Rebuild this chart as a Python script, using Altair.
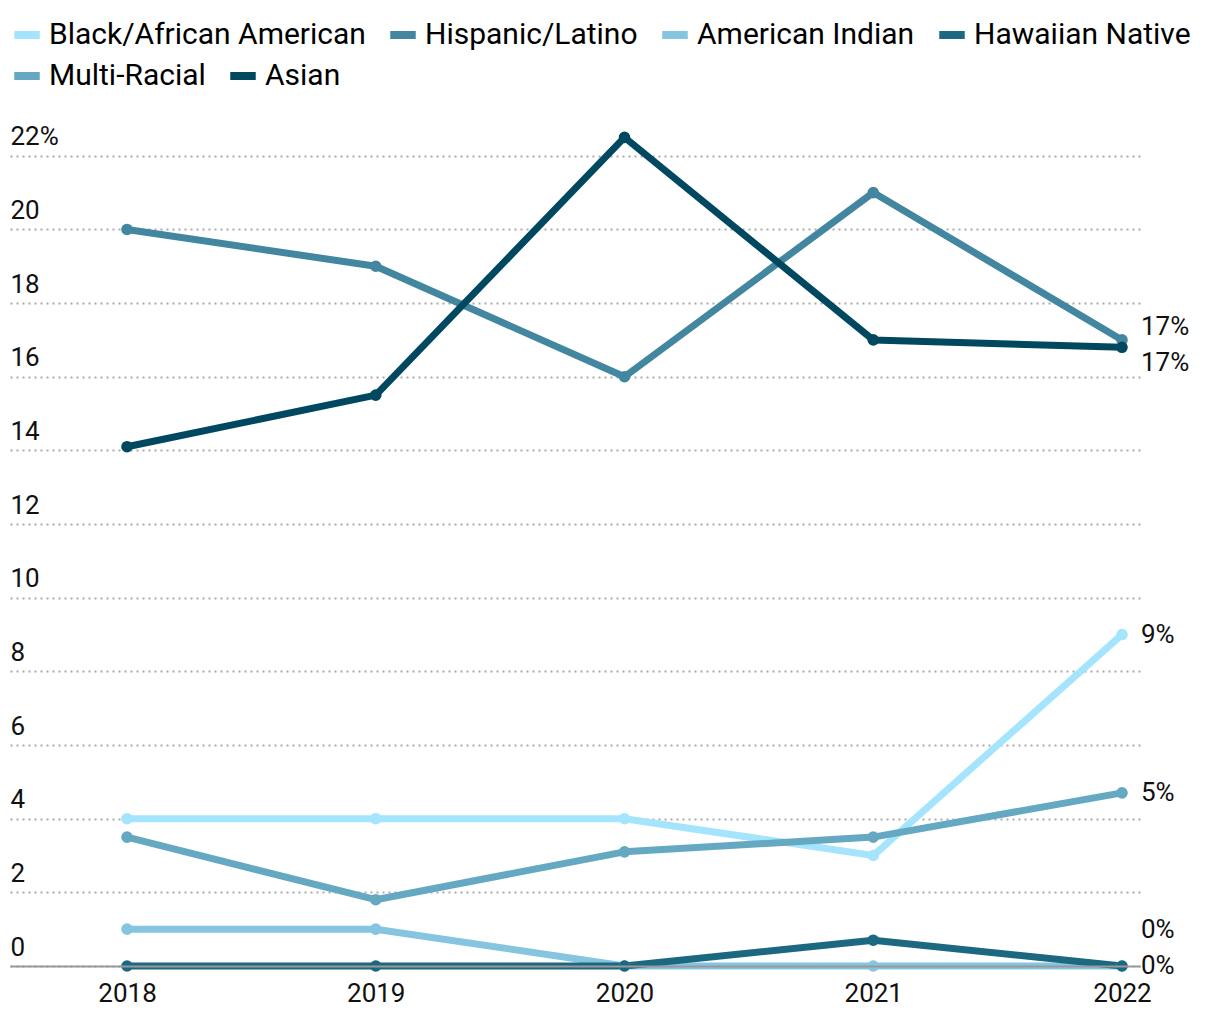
import altair as alt
import pandas as pd

years = [2018, 2019, 2020, 2021, 2022]
series = ["Black/African American", "Hispanic/Latino", "American Indian",
          "Hawaiian Native", "Multi-Racial", "Asian"]
colors = ["#a4e4fc", "#42869f", "#85c5e0", "#1c6881", "#65a8c2", "#004860"]

black = [4, 4, 4, 3, 9]
hispanic = [20, 19, 16, 21, 17]
amind = [1, 1, 0, 0, 0]
hawaiian = [0, 0, 0, 0.7, 0]
multi = [3.5, 1.8, 3.1, 3.5, 4.7]
asian = [14.1, 15.5, 22.5, 17, 16.8]

values = [black, hispanic, amind, hawaiian, multi, asian]
rows = []
for s, vals in zip(series, values):
    for yr, v in zip(years, vals):
        rows.append({"series": s, "year": yr, "value": v})
df = pd.DataFrame(rows)

row1 = series[:4]
row2 = series[4:]

FONT = "Roboto"

xenc = alt.X("year:Q",
             scale=alt.Scale(domain=[2017.5296, 2022.0724], nice=False, zero=False),
             axis=alt.Axis(values=years, format="d", grid=False, ticks=False,
                           domainColor="#999999", domainWidth=2, labelFontSize=26,
                           labelFont=FONT, labelFontWeight=400, labelColor="#111",
                           labelPadding=14, title=None, zindex=1))
yenc = alt.Y("value:Q",
             scale=alt.Scale(domain=[0, 22.7], nice=False, zero=False),
             axis=alt.Axis(values=list(range(0, 23, 2)),
                           labelExpr="datum.value == 22 ? '22%' : datum.label",
                           domain=False, ticks=False, tickSize=0, labelAlign="left",
                           labelBaseline="alphabetic", labelPadding=0, labelOffset=-11,
                           labelFontSize=26, labelFont=FONT, labelFontWeight=400,
                           labelColor="#111",
                           gridDash=[2, 4], gridColor="#aaaaaa", gridWidth=2,
                           title=None))


def legend_at(y):
    return alt.Legend(title=None, orient="none", legendX=0, legendY=y,
                      direction="horizontal", symbolType="stroke", symbolStrokeWidth=8,
                      symbolSize=650, labelOffset=5, columnPadding=8,
                      labelFont=FONT, labelFontSize=30, labelColor="#000", labelLimit=0)


base = alt.Chart(df)
line_style = dict(strokeWidth=7, strokeCap="round", strokeJoin="round")

lines1 = base.transform_filter(
    alt.FieldOneOfPredicate(field="series", oneOf=row1)
).mark_line(**line_style).encode(
    x=xenc, y=yenc,
    color=alt.Color("series:N", scale=alt.Scale(domain=row1, range=colors[:4]),
                    sort=row1, legend=legend_at(-112)),
    detail="series:N",
)

lines2 = base.transform_filter(
    alt.FieldOneOfPredicate(field="series", oneOf=row2)
).mark_line(**line_style).encode(
    x="year:Q", y="value:Q",
    stroke=alt.Stroke("series:N", scale=alt.Scale(domain=row2, range=colors[4:]),
                      sort=row2, legend=legend_at(-71)),
    detail="series:N",
)

points = base.mark_circle(size=135, opacity=1).encode(
    x="year:Q", y="value:Q",
    fill=alt.Fill("series:N", scale=alt.Scale(domain=series, range=colors), legend=None),
    detail="series:N",
)

label_dy = {"Black/African American": 0, "Hispanic/Latino": -13,
            "American Indian": -36, "Hawaiian Native": 0,
            "Multi-Racial": 0, "Asian": 16}

texts = []
for s in series:
    t = base.transform_filter(
        (alt.datum.series == s) & (alt.datum.year == 2022)
    ).transform_calculate(
        label="format(datum.value, '.0f') + '%'"
    ).mark_text(align="left", baseline="middle", dx=19, dy=label_dy[s],
                font=FONT, fontSize=26, fontWeight=400, color="#111").encode(
        x="year:Q", y="value:Q", text="label:N")
    texts.append(t)

chart = alt.layer(lines1, lines2, points, *texts).properties(
    width=1130, height=836,
    autosize=alt.AutoSizeParams(type="none"),
    padding={"left": 2, "top": 122, "right": 70, "bottom": 42},
).configure_view(stroke=None)

chart.save("out.html", embed_options={"renderer": "svg", "actions": False})
